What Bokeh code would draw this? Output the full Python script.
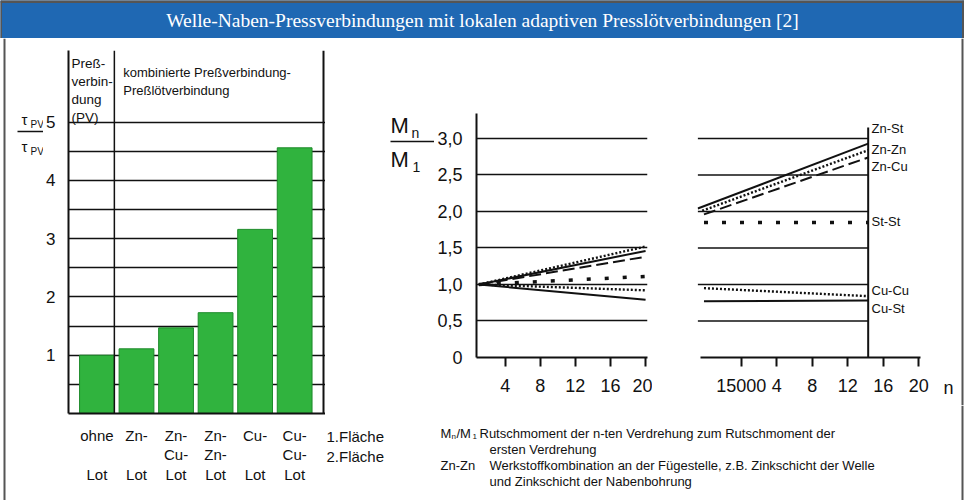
from bokeh.plotting import figure
from bokeh.models import Range1d, FixedTicker, Span, Label
from bokeh.layouts import column, row
from bokeh.embed import file_html
from bokeh.resources import INLINE

# ---------------- data ----------------
TITLE = "Welle-Naben-Pressverbindungen mit lokalen adaptiven Presslötverbindungen [2]"

BAR_POSITIONS = [1, 2, 3, 4, 5, 6]
BAR_LABELS = ["ohne\n \nLot", "Zn-\n \nLot", "Zn-\nCu-\nLot", "Zn-\nZn-\nLot", "Cu-\n \nLot", "Cu-\nCu-\nLot"]
BAR_VALUES = [1.0, 1.11, 1.47, 1.73, 3.16, 4.56]
BAR_Y_TICKS = [1, 2, 3, 4, 5]
BAR_GRID_TICKS = [0.5, 1.0, 1.5, 2.0, 2.5, 3.0, 3.5, 4.0, 4.5, 5.0]
SURFACE_TEXT = "1.Fläche\n2.Fläche"
PV_HEADER = "Preß-\nverbin-\ndung\n(PV)"
COMBI_HEADER = "kombinierte Preßverbindung-\nPreßlötverbindung"

SERIES_NAMES = ["Zn-St", "Zn-Zn", "Zn-Cu", "St-St", "Cu-Cu", "Cu-St"]
N_EARLY = [1, 20]
ZN_ST_EARLY = [1.0, 1.46]
ZN_ZN_EARLY = [1.0, 1.52]
ZN_CU_EARLY = [1.0, 1.38]
ST_ST_EARLY = [1.0, 1.11]
CU_CU_EARLY = [1.0, 0.92]
CU_ST_EARLY = [1.0, 0.79]

N_LATE_START = [14995.1, 14995.6, 14995.8, 14995.8, 14995.8, 14995.8]
N_LATE_END = 15014.3
ZN_ST_LATE = [2.04, 2.93]
ZN_ZN_LATE = [2.01, 2.84]
ZN_CU_LATE = [1.96, 2.74]
ST_ST_LATE = [1.85, 1.85]
CU_CU_LATE = [0.95, 0.84]
CU_ST_LATE = [0.77, 0.78]

N_EARLY_TICKS = [4, 8, 12, 16, 20]
N_LATE_TICKS = [15000, 15004, 15008, 15012, 15016, 15020]
N_LATE_TICK_LABELS = ["15000", "4", "8", "12", "16", "20"]
M_TICKS = [0, 0.5, 1.0, 1.5, 2.0, 2.5, 3.0]
M_TICK_LABELS = ["0", "0,5", "1,0", "1,5", "2,0", "2,5", "3,0"]
M_GRID = [0.5, 1.0, 1.5, 2.0, 2.5, 3.0]
SERIES_LABEL_Y = [3.14, 2.85, 2.62, 1.86, 0.92, 0.67]

NOTE_1 = "Rutschmoment der n-ten Verdrehung zum Rutschmoment der"
NOTE_2 = "ersten Verdrehung"
NOTE_3 = "Werkstoffkombination an der Fügestelle, z.B. Zinkschicht der Welle"
NOTE_4 = "und Zinkschicht der Nabenbohrung"

# ---------------- styles ----------------
FONT = "Liberation Sans"
INK = "#111111"
FRAME_GREY = "#555555"
GREEN = "#30b33e"
STYLES = [
    dict(line_dash="solid", line_width=2.0),
    dict(line_dash="2 2", line_width=2.4),
    dict(line_dash="12 5", line_width=2.0),
    dict(line_dash="4 14", line_width=3.5),
    dict(line_dash="2 2", line_width=2.4),
    dict(line_dash="solid", line_width=2.0),
]
EARLY = [ZN_ST_EARLY, ZN_ZN_EARLY, ZN_CU_EARLY, ST_ST_EARLY, CU_CU_EARLY, CU_ST_EARLY]
LATE = [ZN_ST_LATE, ZN_ZN_LATE, ZN_CU_LATE, ST_ST_LATE, CU_CU_LATE, CU_ST_LATE]


def lab(p, x, y, text, size, align="left", baseline="middle", font=FONT, color=INK):
    p.add_layout(Label(x=x, y=y, text=text, text_font=font, text_font_size=size,
                       text_align=align, text_baseline=baseline, text_color=color))


def base_fig(w, h, xr, yr, borders):
    l, r, t, b = borders
    return figure(width=w, height=h, x_range=xr, y_range=yr, toolbar_location=None,
                  output_backend="svg", min_border_left=l, min_border_right=r,
                  min_border_top=t, min_border_bottom=b, outline_line_color=None,
                  background_fill_color="white", border_fill_color="white",
                  frame_align=False)


def canvas_fig(x0, x1, y0, y1, bg="white"):
    # a plain drawing area whose data coordinates are page pixels
    p = figure(width=x1 - x0, height=y1 - y0, x_range=Range1d(x0, x1), y_range=Range1d(y1, y0),
               toolbar_location=None, output_backend="svg", min_border=0,
               x_axis_location=None, y_axis_location=None, outline_line_color=None,
               background_fill_color=bg, border_fill_color=bg, frame_align=False)
    p.grid.visible = False
    return p


def style_axis(a, size, standoff, ticks_out=0):
    a.minor_tick_line_color = None
    a.minor_tick_out = 0
    a.minor_tick_in = 0
    a.axis_line_color = INK
    a.axis_line_width = 2
    a.major_label_standoff = standoff
    a.major_label_text_font = FONT
    a.major_label_text_font_size = size
    a.major_label_text_color = INK
    a.major_tick_in = 0
    a.major_tick_out = ticks_out
    if ticks_out:
        a.major_tick_line_width = 2
        a.major_tick_line_color = INK
    else:
        a.major_tick_line_color = None


# ---------------- title bar ----------------
tp = canvas_fig(0, 964, 0, 38, bg="#1f68b3")
tp.segment(x0=[0, 0, 963], y0=[1, 0, 0], x1=[964, 0, 963], y1=[1, 38, 38], line_color=FRAME_GREY, line_width=3)
lab(tp, 482, 20, TITLE, "19.5px", align="center", font="Liberation Serif", color="white")

# ---------------- tau label ----------------
taup = canvas_fig(0, 43, 38, 500)
taup.segment(x0=[4], y0=[38], x1=[4], y1=[500], line_color=FRAME_GREY, line_width=2)
taup.segment(x0=[17], y0=[131], x1=[43], y1=[131], line_color=INK, line_width=1.5)
lab(taup, 21, 119, "τ", "15px")
lab(taup, 30, 124, "PV", "10px")
lab(taup, 21, 146, "τ", "15px")
lab(taup, 30, 151, "PV", "10px")

# ---------------- bar chart ----------------
BX0, BPX, BY1 = 0.28, 39.69, 6.23
bp = base_fig(282, 462, Range1d(BX0, BX0 + 258 / BPX), Range1d(0, BY1), (24, 0, 12, 87))
bx = lambda px: BX0 + (px - 67) / BPX
by = lambda py: (413 - py) * BY1 / 363.0

bp.xgrid.visible = False
bp.ygrid.ticker = FixedTicker(ticks=BAR_GRID_TICKS)
bp.ygrid.grid_line_color = INK
bp.ygrid.grid_line_width = 1.4

bp.vbar(x=BAR_POSITIONS, top=BAR_VALUES, width=0.88, bottom=0,
        fill_color=GREEN, line_color="#1d8a2a", line_width=1)

bp.add_layout(Span(location=1.44, dimension="height", line_color=INK, line_width=1.5))
bp.add_layout(Span(location=bx(323), dimension="height", line_color=INK, line_width=2))

ax = bp.xaxis[0]
ax.ticker = FixedTicker(ticks=BAR_POSITIONS)
ax.major_label_overrides = {pos: lbl for pos, lbl in zip(BAR_POSITIONS, BAR_LABELS)}
style_axis(ax, "15px", 13)
ax.major_label_text_line_height = 1.15

ay = bp.yaxis[0]
ay.ticker = FixedTicker(ticks=BAR_Y_TICKS)
style_axis(ay, "17px", 13)

lab(bp, bx(70), by(55), PV_HEADER, "13.5px", baseline="top")
lab(bp, bx(122), by(64), COMBI_HEADER, "13px", baseline="top")

# ---------------- surface legend ----------------
sp = canvas_fig(325, 388, 38, 500)
lab(sp, 326, 427, SURFACE_TEXT, "15px", baseline="top")

# ---------------- Mn/M1 label ----------------
mp = canvas_fig(388, 434, 38, 405)
lab(mp, 390, 125, "M", "22px")
lab(mp, 411, 132, "n", "14px")
mp.segment(x0=[390], y0=[141], x1=[434], y1=[141], line_color=INK, line_width=1.5)
lab(mp, 390, 159, "M", "22px")
lab(mp, 412, 166, "1", "14px")

# ---------------- line chart, first twists ----------------
LX0, LPX, LY1 = 0.73, 8.876, 3.342
lp = base_fig(218, 367, Range1d(LX0, LX0 + 173 / LPX), Range1d(0, LY1), (40, 5, 75, 48))
lp.xgrid.visible = False
lp.ygrid.ticker = FixedTicker(ticks=M_GRID)
lp.ygrid.grid_line_color = INK
lp.ygrid.grid_line_width = 1.4

for vals, st in zip(EARLY, STYLES):
    lp.line(N_EARLY, vals, line_color=INK, **st)

lxa = lp.xaxis[0]
lxa.ticker = FixedTicker(ticks=N_EARLY_TICKS)
style_axis(lxa, "18px", 12, ticks_out=9)

lya = lp.yaxis[0]
lya.ticker = FixedTicker(ticks=M_TICKS)
lya.major_label_overrides = {t: s for t, s in zip(M_TICKS, M_TICK_LABELS)}
style_axis(lya, "18px", 14)

# ---------------- line chart, late twists ----------------
RX0 = 14995.07
rp = base_fig(278, 367, Range1d(RX0, RX0 + 225 / LPX), Range1d(0, LY1), (45, 8, 75, 48))
rp.yaxis.visible = False
rp.grid.visible = False
rx = lambda px: RX0 + (px - 697) / LPX

rp.segment(x0=[N_LATE_START[0]] * len(M_GRID), y0=M_GRID, x1=[N_LATE_END] * len(M_GRID), y1=M_GRID,
           line_color=INK, line_width=1.4)
rp.segment(x0=[N_LATE_END], y0=[0], x1=[N_LATE_END], y1=[3.15], line_color=INK, line_width=2)

for start, vals, st in zip(N_LATE_START, LATE, STYLES):
    rp.line([start, N_LATE_END], vals, line_color=INK, **st)

rxa = rp.xaxis[0]
rxa.ticker = FixedTicker(ticks=N_LATE_TICKS)
rxa.major_label_overrides = {t: s for t, s in zip(N_LATE_TICKS, N_LATE_TICK_LABELS)}
rxa.bounds = (RX0 + 0.3, 15020.2)
style_axis(rxa, "18px", 12, ticks_out=9)

for name, yv in zip(SERIES_NAMES, SERIES_LABEL_Y):
    lab(rp, rx(871), yv, name, "13px")

# ---------------- axis name n ----------------
np_ = canvas_fig(930, 964, 38, 405)
np_.segment(x0=[962], y0=[38], x1=[962], y1=[405], line_color=FRAME_GREY, line_width=2)
lab(np_, 943, 387, "n", "18px")

# ---------------- footnote ----------------
npf = canvas_fig(434, 964, 405, 500)
npf.segment(x0=[962], y0=[405], x1=[962], y1=[500], line_color=FRAME_GREY, line_width=2)
lab(npf, 440, 433, "M", "13px")
lab(npf, 451, 436, "n", "8px")
lab(npf, 456, 433, "/M", "13px")
lab(npf, 472, 436, "1", "8px")
lab(npf, 479, 433, NOTE_1, "13px")
lab(npf, 489, 449, NOTE_2, "13px")
lab(npf, 440, 465, "Zn-Zn", "13px")
lab(npf, 489, 465, NOTE_3, "13px")
lab(npf, 489, 481, NOTE_4, "13px")

layout = column(tp, row(taup, bp, sp, mp, column(row(lp, rp, np_), npf)))
open("out.html", "w").write(file_html(layout, INLINE))
